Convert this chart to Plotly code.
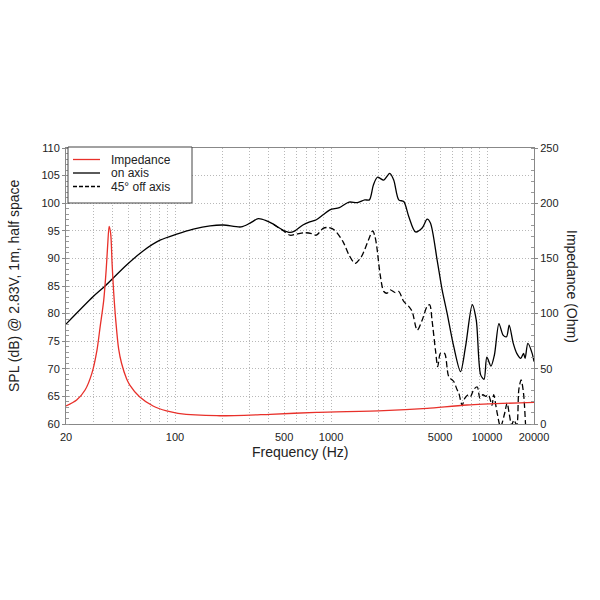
import plotly.graph_objects as go
import numpy as np

# Impedance (Ohm) vs frequency (Hz)
imp_f = [20, 23.4, 26.5, 29.3, 31.6, 33.1, 34.9, 36.2, 37.0, 37.8, 38.7, 39.5, 40.4, 41.8,
         43.5, 45.4, 48.9, 51.3, 59.2, 72.3, 88.3, 104.5, 185, 407, 805, 2179, 4130, 7430, 20000]
imp_z = [16.3, 21.7, 30.8, 45.9, 67, 88, 112, 140, 162, 179, 172, 145, 120, 92,
         68, 55, 41, 35.3, 24.7, 16.3, 11.8, 9.7, 7.5, 8.8, 10.6, 12.1, 14.2, 17.2, 19.6]

# On-axis SPL (dB)
on_f = [20, 29.9, 35.6, 48.9, 62.7, 80.1, 102.5, 131, 167.8, 204, 265, 303, 342, 387, 427,
        494, 546, 587, 660, 730, 805, 890, 983, 1131, 1305, 1475, 1646, 1761, 1869, 1983,
        2179, 2377, 2522, 2717, 2924, 3148, 3477, 3837, 4130, 4337, 4788, 5154, 5549, 6120,
        6760, 7280, 8040, 8530, 9100, 9570, 9970, 10600, 11150, 11920, 12670, 13330, 13870,
        14730, 15510, 16460, 17130, 17540, 18270, 19460, 20000]
on_spl = [78.1, 83.1, 85.0, 88.8, 91.4, 93.3, 94.4, 95.3, 95.9, 96.05, 95.7, 96.4, 97.2, 96.8, 96.2,
          95.1, 94.7, 95.0, 96.05, 96.6, 97.0, 97.9, 98.8, 99.2, 100.2, 100.1, 100.6, 100.6, 103.3, 104.7,
          104.2, 105.4, 104.2, 100.6, 100.3, 97.6, 94.8, 95.5, 97.1, 96.4, 89.7, 84.3, 80.05, 74.0,
          69.5, 74.0, 81.6, 78.8, 68.9, 68.1, 72.1, 70.5, 72.5, 78.2, 76.1, 75.8, 77.9,
          74.6, 72.8, 71.9, 72.8, 71.9, 74.6, 72.8, 71.3]

# 45 deg off-axis SPL (dB)
off_f = [427, 494, 546, 602, 680, 751, 805, 890, 957, 1055, 1195, 1305, 1425, 1565, 1735, 1850,
         1915, 1965, 2066, 2179, 2290, 2395, 2583, 2717, 2924, 3148, 3310, 3568, 3837, 4130,
         4290, 4440, 4670, 4830, 5030, 5340, 5680, 6120, 6430, 6590, 6930, 7210, 7580, 7840,
         8240, 8660, 9000, 9410, 9800, 10200, 10760, 11030, 11560, 12200, 12960, 13440, 13870,
         14370, 14870, 15510, 15980, 16540, 17130, 17640, 18000]
off_spl = [96.2, 95.0, 94.2, 94.4, 94.65, 94.5, 94.2, 95.45, 95.6, 95.1, 93.0, 90.6, 89.1, 90.3, 93.3, 95.0,
           93.9, 92.1, 87.0, 84.0, 83.7, 84.3, 83.8, 84.0, 82.2, 81.3, 80.4, 77.0, 78.8, 81.3,
           81.6, 78.8, 73.4, 70.4, 72.8, 72.8, 68.6, 67.7, 66.2, 65.6, 63.4, 64.7, 65.3, 65.0,
           66.3, 66.7, 64.7, 65.3, 65.0, 65.3, 63.4, 65.3, 62.3, 59.5, 61.9, 63.8, 61.9,
           59.8, 60.7, 59.8, 66.2, 68.0, 65.6, 60.1, 55]

x_labels = [20, 100, 500, 1000, 5000, 10000, 20000]
y_left_ticks = list(range(60, 111, 5))
y_right_ticks = list(range(0, 251, 50))
series_names = ["Impedance", "on axis", "45° off axis"]

# gridline positions on log axis
grid_vals = []
for dec in [10, 100, 1000, 10000]:
    for m in range(1, 10):
        v = m * dec
        if 20 <= v <= 20000:
            grid_vals.append(v)
grid_text = [str(v) if v in x_labels else "" for v in grid_vals]

FONT = "Liberation Sans, Arial, Helvetica, sans-serif"
RED = "#e8302a"
GRID = "#b8b8b8"

# plot area in pixels
L, R, T, B = 66, 534, 148, 424
def px(x):
    return (x - L) / (R - L)
def py(y):
    return (B - y) / (B - T)

fig = go.Figure()
fig.add_trace(go.Scatter(x=imp_f, y=imp_z, name=series_names[0], yaxis="y2", mode="lines",
                         line=dict(color=RED, width=1.3, shape="spline", smoothing=0.8)))
fig.add_trace(go.Scatter(x=on_f, y=on_spl, name=series_names[1], mode="lines",
                         line=dict(color="black", width=1.3, shape="spline", smoothing=0.8)))
fig.add_trace(go.Scatter(x=off_f, y=off_spl, name=series_names[2], mode="lines",
                         line=dict(color="black", width=1.3, dash="6px,3px", shape="spline", smoothing=0.8)))

fig.update_layout(
    width=600, height=600,
    margin=dict(l=L, r=600 - R, t=T, b=600 - B),
    paper_bgcolor="white", plot_bgcolor="white",
    font=dict(family=FONT, size=11, color="#222"),
    showlegend=False,
    xaxis=dict(type="log", range=[np.log10(20), np.log10(20000)],
               tickvals=grid_vals, ticktext=grid_text, ticks="", ticklabelstandoff=3,
               showgrid=True, gridcolor=GRID, griddash="1px,2px", gridwidth=1,
               showline=True, linecolor="#888", linewidth=1, mirror=True,
               zeroline=False, tickfont=dict(size=11, color="#222")),
    yaxis=dict(range=[60, 110], tickvals=y_left_ticks, ticks="outside", ticklen=3,
               tickcolor="#888",
               showgrid=True, gridcolor=GRID, griddash="1px,2px", gridwidth=1,
               showline=True, linecolor="#888", linewidth=1,
               zeroline=False, tickfont=dict(size=11, color="#222"),
               minor=dict(dtick=1, ticks="inside", ticklen=3, tickcolor="#999", showgrid=False)),
    yaxis2=dict(range=[0, 250], tickvals=y_right_ticks, overlaying="y", side="right",
                ticks="outside", ticklen=3, tickcolor="#888",
                showgrid=False, showline=True, linecolor="#888", linewidth=1,
                zeroline=False, tickfont=dict(size=11, color="#222"),
                minor=dict(dtick=10, ticks="inside", ticklen=3, tickcolor="#999", showgrid=False)),
)

# custom compact legend (box, line samples, labels)
fig.add_shape(type="rect", xref="paper", yref="paper",
              x0=px(68), x1=px(192), y0=py(203), y1=py(147),
              line=dict(color="#444", width=1), fillcolor="white", layer="above")
leg_rows = [159.5, 173, 186.5]
leg_styles = [dict(color=RED, width=1.3), dict(color="black", width=1.3),
              dict(color="black", width=1.3, dash="4px,2px")]
for name, yrow, st in zip(series_names, leg_rows, leg_styles):
    fig.add_shape(type="line", xref="paper", yref="paper",
                  x0=px(73), x1=px(100), y0=py(yrow), y1=py(yrow), line=st, layer="above")
    fig.add_annotation(text=name, xref="paper", yref="paper", x=px(109), y=py(yrow),
                       xanchor="left", yanchor="middle", showarrow=False,
                       font=dict(size=12, color="#222"))

fig.add_annotation(text="Frequency (Hz)", xref="paper", yref="paper", x=0.5, y=py(452),
                   showarrow=False, font=dict(size=14, color="#222"), yanchor="middle")
fig.add_annotation(text="SPL (dB) @ 2.83V, 1m, half space", xref="paper", yref="paper",
                   x=px(14), y=0.5, textangle=-90, showarrow=False,
                   font=dict(size=14, color="#222"), xanchor="center", yanchor="middle")
fig.add_annotation(text="Impedance (Ohm)", xref="paper", yref="paper",
                   x=px(572), y=0.5, textangle=90, showarrow=False,
                   font=dict(size=14, color="#222"), xanchor="center", yanchor="middle")

fig.write_html("out.html")
